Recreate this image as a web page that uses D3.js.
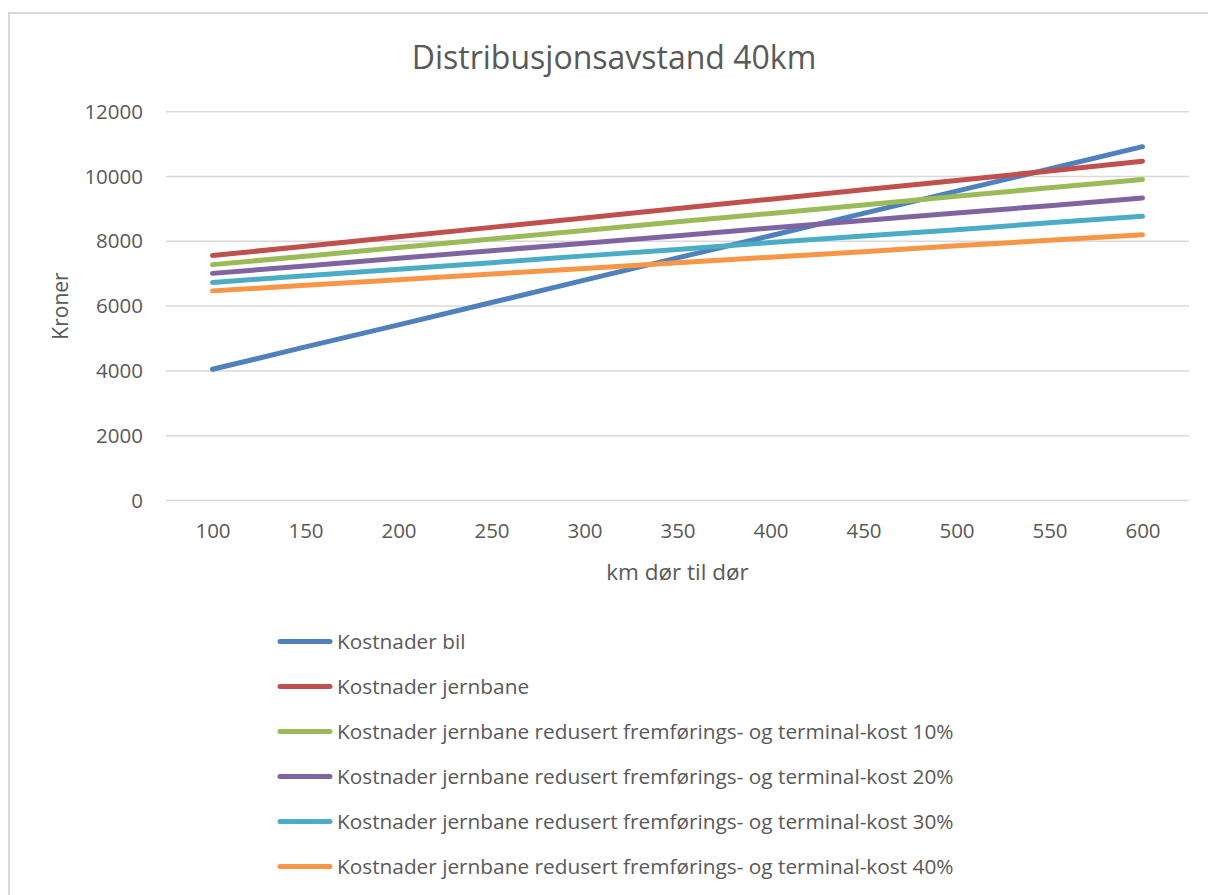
<!DOCTYPE html>
<html>
<head>
<meta charset="utf-8">
<script src="https://cdn.jsdelivr.net/npm/d3@7"></script>
<style>
  html, body { margin: 0; padding: 0; background: #ffffff; }
  svg { display: block; }
  text { font-family: "Open Sans", Lato, sans-serif; fill: #595959; }
</style>
</head>
<body>
<svg id="chart" width="1208" height="895"></svg>
<script>
// Distance door to door (km)
const categories = ["100", "150", "200", "250", "300", "350", "400", "450", "500", "550", "600"];

// Cost per series, in kroner
const kostnaderBil = [4050, 4740, 5420, 6110, 6800, 7490, 8170, 8860, 9550, 10230, 10920];
const kostnaderJernbane = [7560, 7850, 8140, 8430, 8720, 9010, 9300, 9590, 9880, 10170, 10470];
const redusert10 = [7280, 7540, 7810, 8070, 8330, 8600, 8860, 9120, 9390, 9650, 9910];
const redusert20 = [7010, 7240, 7480, 7710, 7940, 8170, 8410, 8640, 8870, 9100, 9340];
const redusert30 = [6730, 6940, 7140, 7340, 7550, 7750, 7960, 8160, 8360, 8570, 8770];
const redusert40 = [6470, 6640, 6810, 6990, 7160, 7340, 7510, 7680, 7860, 8030, 8200];

const seriesNames = [
  "Kostnader bil",
  "Kostnader jernbane",
  "Kostnader jernbane redusert fremførings- og terminal-kost 10%",
  "Kostnader jernbane redusert fremførings- og terminal-kost 20%",
  "Kostnader jernbane redusert fremførings- og terminal-kost 30%",
  "Kostnader jernbane redusert fremførings- og terminal-kost 40%"
];
const seriesValues = [kostnaderBil, kostnaderJernbane, redusert10, redusert20, redusert30, redusert40];
const seriesColors = ["#4f81bd", "#c0504d", "#9bbb59", "#8064a2", "#4bacc6", "#f79646"];

const yTicks = [0, 2000, 4000, 6000, 8000, 10000, 12000];

const series = seriesNames.map((name, i) => ({
  name,
  color: seriesColors[i],
  values: seriesValues[i].map((v, j) => ({ cat: categories[j], value: v }))
}));

const FONT = "'Open Sans', Lato, sans-serif";
const svg = d3.select("#chart");

// Chart frame
svg.append("rect")
  .attr("x", 9).attr("y", 13)
  .attr("width", 1240).attr("height", 900)
  .attr("fill", "#ffffff")
  .attr("stroke", "#d9d9d9")
  .attr("stroke-width", 2);

const plot = { left: 166, right: 1189, top: 111.7, bottom: 500.5 };

const x = d3.scalePoint()
  .domain(categories)
  .range([plot.left, plot.right])
  .padding(0.5);

const y = d3.scaleLinear()
  .domain([0, 12000])
  .range([plot.bottom, plot.top]);

// Horizontal gridlines
svg.append("g")
  .selectAll("line")
  .data(yTicks)
  .join("line")
  .attr("x1", plot.left).attr("x2", plot.right)
  .attr("y1", d => y(d)).attr("y2", d => y(d))
  .attr("stroke", "#d9d9d9")
  .attr("stroke-width", 1.5);

// Y axis labels
const yAxis = d3.axisLeft(y).tickValues(yTicks).tickSize(0).tickPadding(0).tickFormat(d3.format("d"));
svg.append("g")
  .attr("transform", `translate(${plot.left - 23},0)`)
  .call(yAxis)
  .call(g => g.select(".domain").remove())
  .selectAll("text")
  .attr("font-family", FONT)
  .attr("font-size", 20.5)
  .attr("fill", "#595959");

// X axis labels
const xAxis = d3.axisBottom(x).tickSize(0).tickPadding(0);
svg.append("g")
  .attr("transform", `translate(0,${plot.bottom + 23})`)
  .call(xAxis)
  .call(g => g.select(".domain").remove())
  .selectAll("text")
  .attr("font-family", FONT)
  .attr("font-size", 20.5)
  .attr("fill", "#595959");

// Series lines
const line = d3.line()
  .x(d => x(d.cat))
  .y(d => y(d.value));

svg.append("g")
  .selectAll("path")
  .data(series)
  .join("path")
  .attr("d", d => line(d.values))
  .attr("fill", "none")
  .attr("stroke", d => d.color)
  .attr("stroke-width", 5)
  .attr("stroke-linecap", "round")
  .attr("stroke-linejoin", "round");

// Title
svg.append("text")
  .attr("x", 614).attr("y", 69)
  .attr("text-anchor", "middle")
  .attr("font-size", 32)
  .text("Distribusjonsavstand 40km");

// Axis titles
svg.append("text")
  .attr("x", (plot.left + plot.right) / 2).attr("y", 580)
  .attr("text-anchor", "middle")
  .attr("font-size", 22.5)
  .text("km dør til dør");

svg.append("text")
  .attr("transform", "translate(68,306) rotate(-90)")
  .attr("text-anchor", "middle")
  .attr("font-size", 21)
  .text("Kroner");

// Legend
const legend = svg.append("g")
  .selectAll("g")
  .data(series)
  .join("g")
  .attr("transform", (d, i) => `translate(278,${641.5 + i * 45})`);

legend.append("line")
  .attr("x1", 2).attr("x2", 52)
  .attr("y1", 0).attr("y2", 0)
  .attr("stroke", d => d.color)
  .attr("stroke-width", 5)
  .attr("stroke-linecap", "round");

legend.append("text")
  .attr("x", 59).attr("y", 7.5)
  .attr("font-size", 20.8)
  .text(d => d.name);
</script>
</body>
</html>
